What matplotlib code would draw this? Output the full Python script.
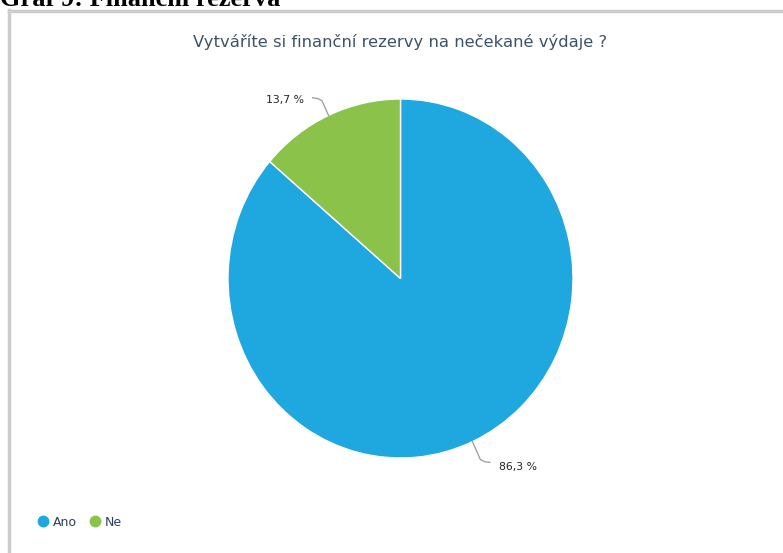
import numpy as np
import matplotlib.pyplot as plt
from matplotlib.lines import Line2D

# data
labels = ["Ano", "Ne"]
values = [86.3, 13.7]
colors = ["#1fa8e0", "#8bc34a"]
value_texts = ["86,3 %", "13,7 %"]

W, H = 783, 553
fig = plt.figure(figsize=(W / 100, H / 100), dpi=100)
fig.patch.set_facecolor("white")

def px(x, y):
    return x / W, 1 - y / H

# frame of the chart box (only left and top edges visible)
fig.add_artist(Line2D([8.5 / W, 8.5 / W], [1 - 10 / H, 0], color="#cccccc", lw=2.5,
                      transform=fig.transFigure))
fig.add_artist(Line2D([8.5 / W, 1], [1 - 11 / H, 1 - 11 / H], color="#cccccc", lw=2.5,
                      transform=fig.transFigure))

# caption above the box
fig.text(0, 1 - 6 / H, "Graf 9: Finanční rezerva", family="Liberation Serif",
         weight="bold", fontsize=19, va="baseline", ha="left", color="black")

# chart title
fig.text(*px(400, 42), "Vytváříte si finanční rezervy na nečekané výdaje ?",
         fontsize=11.8, color="#3d5266", ha="center", va="center")

# pie axes
left, right, top, bottom = 228, 573, 99, 458
ax = fig.add_axes([left / W, 1 - bottom / H, (right - left) / W, (bottom - top) / H])
wedges, _ = ax.pie(values, colors=colors, startangle=90, counterclock=False,
                   wedgeprops=dict(edgecolor="white", linewidth=1))
ax.set_aspect("auto")
ax.set_xlim(-1, 1)
ax.set_ylim(-1, 1)

# percentage labels with leader lines
for w, txt in zip(wedges, value_texts):
    ang = np.deg2rad((w.theta1 + w.theta2) / 2)
    c, s = np.cos(ang), np.sin(ang)
    up = 1 if s > 0 else -1
    reach = 1.09 if up > 0 else 1.11
    x0, y0 = c * 1.0, s * 1.0
    x1, y1 = c * reach, s * reach
    sign = 1 if c >= 0 else -1
    x2, y2 = x1 + sign * 0.025, y1 + up * 0.012
    x3, y3 = x2 + sign * 0.03, y2 + up * 0.004
    ax.plot([x0, x1, x2, x3], [y0, y1, y2, y3], color="#9a9a9a", lw=0.9,
            clip_on=False, solid_joinstyle="round")
    ty = y3 - (0.01 if up > 0 else 0.025)
    ax.text(x3 + sign * 0.05, ty, txt, fontsize=7.8, color="#222222",
            ha="left" if sign > 0 else "right", va="center", clip_on=False)

# legend
handles = [Line2D([], [], marker="o", ls="", markersize=7.5, color=c) for c in colors]
fig.legend(handles, labels, loc="center left", bbox_to_anchor=px(27, 522),
           ncol=2, frameon=False, fontsize=9, handlelength=0.8, handletextpad=0.35,
           columnspacing=1.1, labelcolor="#2e4055")

fig.savefig("out.png", dpi=100)
